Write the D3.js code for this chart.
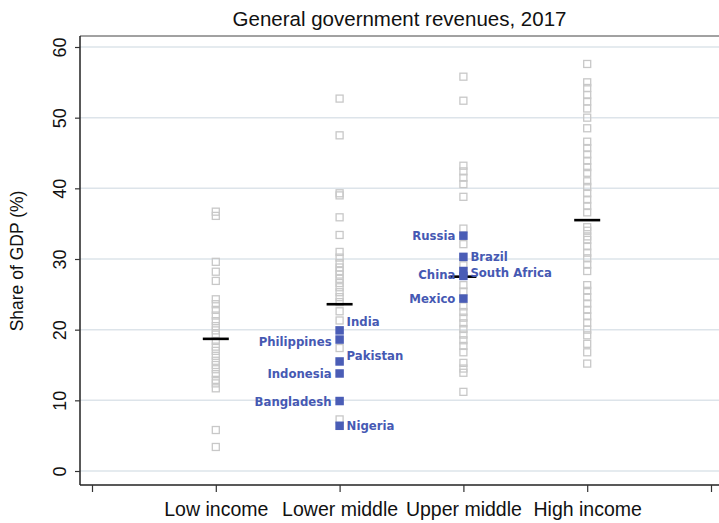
<!DOCTYPE html>
<html>
<head>
<meta charset="utf-8">
<script src="https://cdn.jsdelivr.net/npm/d3@7"></script>
<style>
  body { margin: 0; background: #fff; }
  svg { display: block; }
</style>
</head>
<body>
<svg id="chart" width="719" height="523"></svg>
<script>
// income groups (x positions 1..4)
const groups = ["Low income", "Lower middle", "Upper middle", "High income"];

// hollow markers: all other countries, by group
const lowIncome = [36.7, 36.1, 29.6, 28.2, 26.9, 24.3, 23.6, 22.8, 22.0, 21.2, 20.5, 19.9, 19.3,
    18.4, 17.6, 17.0, 16.3, 15.6, 15.0, 14.4, 13.7, 12.9, 12.4, 11.7, 5.8, 3.4];
const lowerMiddle = [52.7, 47.5, 39.3, 39.0, 35.9, 33.4, 31.0, 30.2, 29.4, 28.8, 28.3, 27.8, 27.2,
    26.6, 26.0, 25.3, 24.6, 23.9, 22.6, 21.3, 17.4, 7.3];
const upperMiddle = [55.8, 52.4, 43.2, 42.4, 41.5, 40.6, 38.8, 34.3, 32.1, 29.1, 26.3, 25.4, 23.3,
    22.5, 21.7, 20.9, 20.1, 19.3, 18.5, 17.7, 16.8, 15.3, 14.5, 13.9, 11.2];
const highIncome = [57.6, 55.0, 54.2, 53.2, 52.3, 51.3, 50.0, 48.5, 46.6, 45.7, 44.8, 43.9, 43.0,
    42.2, 41.0, 40.2, 39.3, 38.4, 37.5, 36.6, 34.5, 34.0, 33.2, 32.7, 31.8, 30.9, 30.1, 29.2, 28.3,
    26.3, 25.5, 24.6, 23.7, 22.8, 21.9, 21.0, 20.0, 19.2, 18.0, 16.8, 15.2];

// group medians (black bars)
const medians = [18.7, 23.6, 27.5, 35.5];

// highlighted countries
const countries = ["India", "Philippines", "Pakistan", "Indonesia", "Bangladesh", "Nigeria",
    "Russia", "Brazil", "China", "South Africa", "Mexico"];
const countryGroup = [2, 2, 2, 2, 2, 2, 3, 3, 3, 3, 3];
const countryValue = [19.9, 18.6, 15.5, 13.8, 9.9, 6.4, 33.3, 30.3, 28.3, 27.6, 24.4];
const labelSide = ["right", "left", "right", "left", "left", "right",
    "left", "right", "left", "right", "left"];
const labelNudge = [-9, 2, -6, 0, 0, 0, 0, 0, 3, -4, 0];

const yTicks = [0, 10, 20, 30, 40, 50, 60];
const xTicks = [0, 1, 2, 3, 4, 5];

const colors = {
    hollow: "#c8c8c8",
    blue: "#4a5db6",
    label: "#4659b3",
    grid: "#dde4ea"
};

const svg = d3.select("#chart");
const plotLeft = 80, plotRight = 719, plotTop = 36, plotBottom = 485;

const x = d3.scaleLinear().domain([0, 5]).range([92, 711]);
const y = d3.scaleLinear().domain([0, 60]).range([471, 47]);

// title
svg.append("text")
    .attr("x", (plotLeft + plotRight) / 2)
    .attr("y", 26)
    .attr("text-anchor", "middle")
    .attr("font-family", "Liberation Sans, Arial, sans-serif")
    .attr("font-size", 20.5)
    .attr("fill", "#111")
    .text("General government revenues, 2017");

// gridlines
svg.append("g")
    .selectAll("line")
    .data(yTicks)
    .enter().append("line")
    .attr("x1", plotLeft).attr("x2", plotRight)
    .attr("y1", d => y(d)).attr("y2", d => y(d))
    .attr("stroke", colors.grid)
    .attr("stroke-width", 1.5);

// top border
svg.append("line")
    .attr("x1", plotLeft).attr("x2", plotRight)
    .attr("y1", plotTop).attr("y2", plotTop)
    .attr("stroke", "#444").attr("stroke-width", 1);

// y axis
const yAxis = svg.append("g")
    .attr("transform", `translate(${plotLeft},0)`)
    .call(d3.axisLeft(y).tickValues(yTicks).tickSize(5).tickPadding(12));
yAxis.select(".domain").attr("d", `M-0,${plotTop}V${plotBottom}`).attr("stroke", "#222").attr("stroke-width", 1.5);
yAxis.selectAll(".tick line").attr("stroke", "#333").attr("stroke-width", 1.2);
yAxis.selectAll(".tick text")
    .attr("font-family", "Liberation Sans, Arial, sans-serif")
    .attr("font-size", 18)
    .attr("fill", "#111")
    .attr("text-anchor", "middle")
    .attr("x", null).attr("dy", null)
    .attr("transform", "translate(-20,0) rotate(-90)")
    .attr("dominant-baseline", "central");

// x axis
const xAxis = svg.append("g")
    .attr("transform", `translate(0,${plotBottom})`)
    .call(d3.axisBottom(x).tickValues(xTicks).tickSize(7).tickPadding(10)
        .tickFormat(d => groups[d - 1] || ""));
xAxis.select(".domain").attr("d", `M${plotLeft},0H${plotRight}`).attr("stroke", "#222").attr("stroke-width", 1.5);
xAxis.selectAll(".tick line").attr("stroke", "#333").attr("stroke-width", 1.2);
xAxis.selectAll(".tick text")
    .attr("font-family", "Liberation Sans, Arial, sans-serif")
    .attr("font-size", 19.5)
    .attr("fill", "#111");

// y axis title
svg.append("text")
    .attr("transform", `translate(23,${(y(0) + y(60)) / 2 + 2}) rotate(-90)`)
    .attr("text-anchor", "middle")
    .attr("font-family", "Liberation Sans, Arial, sans-serif")
    .attr("font-size", 17.5)
    .attr("fill", "#111")
    .text("Share of GDP (%)");

// hollow squares
const hollow = [lowIncome, lowerMiddle, upperMiddle, highIncome]
    .flatMap((vals, i) => vals.map(v => ({ g: i + 1, v: v })));
const s = 7;
svg.append("g")
    .selectAll("rect")
    .data(hollow)
    .enter().append("rect")
    .attr("x", d => x(d.g) - s / 2)
    .attr("y", d => y(d.v) - s / 2)
    .attr("width", s).attr("height", s)
    .attr("fill", "none")
    .attr("stroke", colors.hollow)
    .attr("stroke-width", 1.3);

// median bars
svg.append("g")
    .selectAll("line")
    .data(medians)
    .enter().append("line")
    .attr("x1", (d, i) => x(i + 1) - 13)
    .attr("x2", (d, i) => x(i + 1) + 13)
    .attr("y1", d => y(d)).attr("y2", d => y(d))
    .attr("stroke", "#000")
    .attr("stroke-width", 2.6);

// highlighted countries
const hl = countries.map((c, i) => ({
    name: c, g: countryGroup[i], v: countryValue[i], side: labelSide[i], dy: labelNudge[i]
}));
const fs = 8.5;
svg.append("g")
    .selectAll("rect")
    .data(hl)
    .enter().append("rect")
    .attr("x", d => x(d.g) - fs / 2)
    .attr("y", d => y(d.v) - fs / 2)
    .attr("width", fs).attr("height", fs)
    .attr("fill", colors.blue);

svg.append("g")
    .selectAll("text")
    .data(hl)
    .enter().append("text")
    .attr("x", d => d.side === "right" ? x(d.g) + 7 : x(d.g) - 8)
    .attr("y", d => y(d.v) + d.dy)
    .attr("dy", "0.35em")
    .attr("text-anchor", d => d.side === "right" ? "start" : "end")
    .attr("font-family", "DejaVu Sans Condensed, DejaVu Sans, sans-serif")
    .attr("font-weight", "bold")
    .attr("font-size", 13)
    .attr("fill", colors.label)
    .text(d => d.name);
</script>
</body>
</html>
